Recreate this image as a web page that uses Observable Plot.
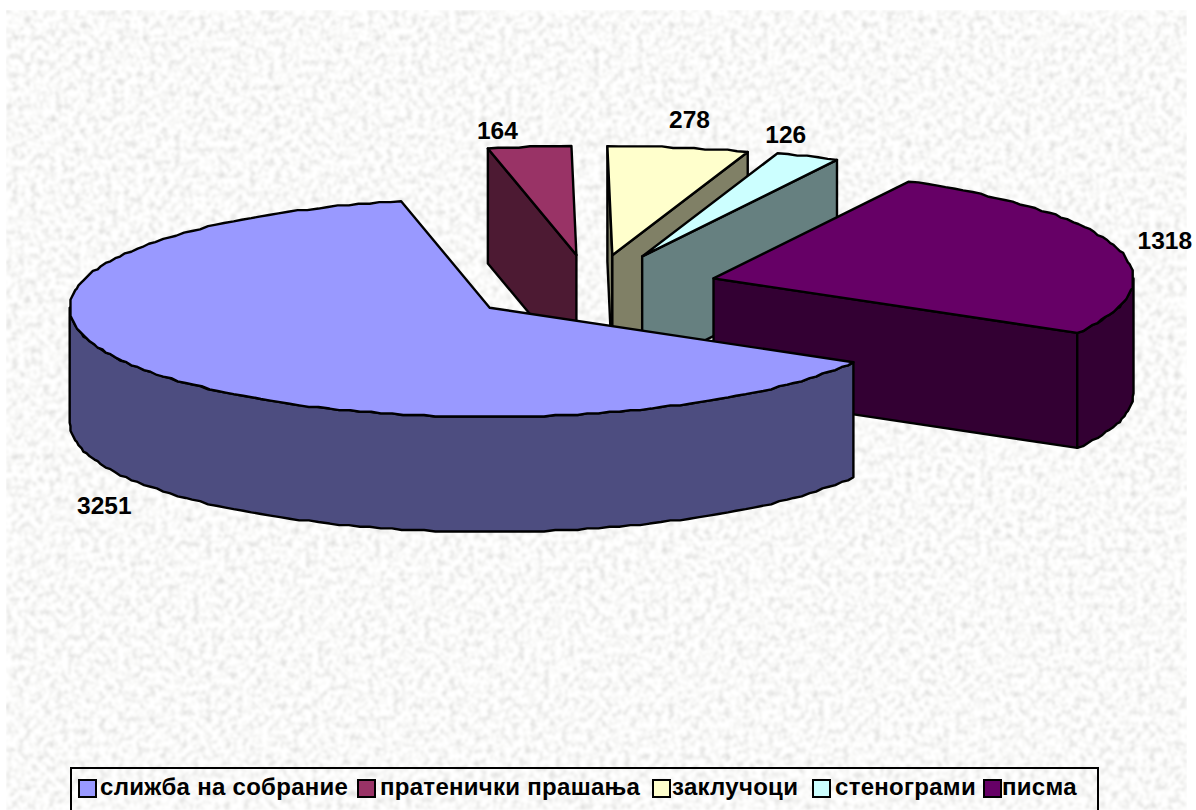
<!DOCTYPE html>
<html>
<head>
<meta charset="utf-8">
<script src="https://cdn.jsdelivr.net/npm/d3@7"></script>
<script src="https://cdn.jsdelivr.net/npm/@observablehq/plot@0.6"></script>
<style>
html,body{margin:0;padding:0;background:#fff;overflow:hidden;}
#page{position:relative;width:1196px;height:810px;overflow:hidden;font-family:"Liberation Sans",Arial,sans-serif;}
#tex{position:absolute;left:6px;top:10px;width:1181px;height:800px;}
#chart{position:absolute;left:0;top:0;}
#legend{position:absolute;left:70px;top:767px;width:1025px;height:60px;border:2px solid #000;box-sizing:content-box;}
.sw{position:absolute;top:10px;width:15px;height:15px;border:2px solid #000;}
.lb{position:absolute;top:4px;font-weight:bold;font-size:24px;letter-spacing:0.28px;line-height:28px;color:#000;white-space:nowrap;}
</style>
</head>
<body>
<div id="page">
<svg id="tex" xmlns="http://www.w3.org/2000/svg">
<filter id="grain" x="0" y="0" width="100%" height="100%">
<feTurbulence type="fractalNoise" baseFrequency="0.16" numOctaves="3" seed="9"/>
<feColorMatrix type="matrix" values="0.6 0 0 0 0.65  0.6 0 0 0 0.65  0.6 0 0 0 0.64  0 0 0 0 1"/>
<feGaussianBlur stdDeviation="0.8"/>
</filter>
<rect width="100%" height="100%" filter="url(#grain)"/>
</svg>
<div id="chart"></div>
<div id="legend"></div>
</div>
<script>
const categories = ["слижба на собрание","пратенички прашања","заклучоци","стенограми","писма"];
const values = [3251,164,278,126,1318];
const topColors = ["#9999FF","#993366","#FFFFCC","#CCFFFF","#660066"];
const wallColors = ["#4D4D80","#4D1A33","#808066","#668080","#330033"];

// 3-D pie set-up
const startDeg = 30, explode = 0.3, depth = 115/109;
const W = 1196, H = 810, cx = 591, cy = 288, rx = 420, ry = 109;
const nudgeX = [0,-1,1,1,1], nudgeY = [0,-1,-1,-2,-1];
const total = d3.sum(values);
const rad = d => d*Math.PI/180;
let acc = startDeg;
const slices = values.map((v,i)=>{
  const a0 = acc, a1 = acc + v/total*360; acc = a1;
  const m = (a0+a1)/2;
  return {i,v,a0,a1,m,
    ox:explode*Math.cos(rad(m))+nudgeX[i]/rx,
    oy:explode*Math.sin(rad(m))+nudgeY[i]/ry};
});
const rim = (s,a,d=0)=>({x:s.ox+Math.cos(rad(a)),y:s.oy+Math.sin(rad(a))+d});
// curved edges are slightly stepped on a pixel grid, as the original renderer does
const step = 1.6;
const snap = p=>({x:Math.round(p.x*rx/step)*step/rx,y:Math.round(p.y*ry/step)*step/ry});
const arc = (s,a0,a1,d=0)=>{
  const n = Math.max(2,Math.ceil((a1-a0)/1.5));
  return d3.range(0,n+1).map(k=>{
    if (k===0) return rim(s,a0,d);
    if (k===n) return rim(s,a1,d);
    const p = rim(s,a0+(a1-a0)*k/n,d);
    const q = snap({x:p.x-s.ox,y:p.y-s.oy-d});
    return {x:q.x+s.ox,y:q.y+s.oy+d};
  });
};
const apex = (s,d=0)=>({x:s.ox,y:s.oy+d});
const closed = p=>[...p,p[0]];
const marks = [];
const poly = (p,fill)=>marks.push(Plot.line(closed(p),{x:"x",y:"y",fill,stroke:"#000",strokeWidth:2.4,strokeLinejoin:"round"}));

for (const i of [1,2,3,4,0]) {
  const s = slices[i], wall = wallColors[i];
  const startVisible = -Math.cos(rad(s.a0)) > 0;   // outward normal of the start face points at the viewer
  const endVisible = Math.cos(rad(s.a1)) > 0;
  if (startVisible) poly([apex(s),rim(s,s.a0),rim(s,s.a0,depth),apex(s,depth)],wall);
  if (endVisible) poly([apex(s),rim(s,s.a1),rim(s,s.a1,depth),apex(s,depth)],wall);
  // outer rim wall: only the front half (sin > 0) shows
  for (const k of [0,1]) {
    const lo = Math.max(s.a0,k*360), hi = Math.min(s.a1,k*360+180);
    if (hi > lo) poly([...arc(s,lo,hi),...arc(s,lo,hi,depth).reverse()],wall);
  }
  poly([apex(s),...arc(s,s.a0,s.a1)],topColors[i]);
}

// value labels: placed off the rim of each slice
const labelNudgeX = [-46,-32,11,-22,48];
const labelNudgeY = [134,-16,-27,-21,-7];
const labels = slices.map((s,i)=>{
  const p = rim(s,s.m);
  return {x:p.x+labelNudgeX[i]/rx,y:p.y+labelNudgeY[i]/ry,t:String(values[i])};
});
marks.push(Plot.text(labels,{x:"x",y:"y",text:"t",fontSize:24.5,fontWeight:"bold",fill:"#000",fontFamily:"Liberation Sans, Arial, sans-serif"}));

const plot = Plot.plot({
  width:W,height:H,margin:0,
  style:{background:"transparent"},
  x:{axis:null,domain:[-cx/rx,(W-cx)/rx],range:[0,W]},
  y:{axis:null,domain:[-cy/ry,(H-cy)/ry],range:[0,H]},
  marks
});
document.getElementById("chart").appendChild(plot);

// legend
const swatchLeft = [6,285,580,740,911];
const labelLeft = [28,308,600,763,930];
const lg = document.getElementById("legend");
categories.forEach((c,i)=>{
  const sw = document.createElement("div");
  sw.className="sw"; sw.style.left=swatchLeft[i]+"px"; sw.style.background=topColors[i];
  const lb = document.createElement("div");
  lb.className="lb"; lb.style.left=labelLeft[i]+"px"; lb.textContent=c;
  lg.append(sw,lb);
});
</script>
</body>
</html>
